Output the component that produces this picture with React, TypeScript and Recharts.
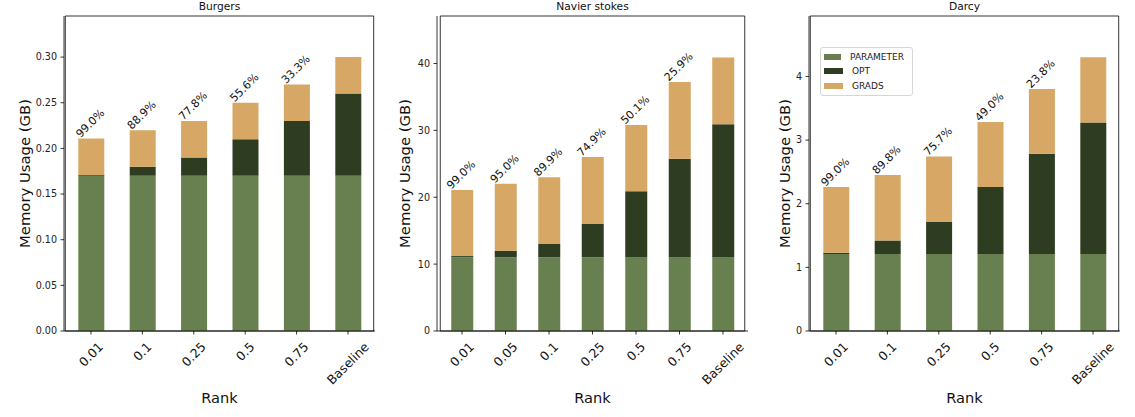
import React from 'react';
import { BarChart, Bar, XAxis, YAxis, Legend, LabelList, ReferenceArea } from 'recharts';

const burgersRanks = ['0.01', '0.1', '0.25', '0.5', '0.75', 'Baseline'];
const burgersParam = [0.17, 0.17, 0.17, 0.17, 0.17, 0.17];
const burgersOpt = [0.0009, 0.01, 0.02, 0.04, 0.06, 0.09];
const burgersGrads = [0.04, 0.04, 0.04, 0.04, 0.04, 0.04];
const burgersPct = ['99.0%', '88.9%', '77.8%', '55.6%', '33.3%', ''];
const burgersTicks = [0, 0.05, 0.1, 0.15, 0.2, 0.25, 0.3];

const navierRanks = ['0.01', '0.05', '0.1', '0.25', '0.5', '0.75', 'Baseline'];
const navierParam = [11, 11, 11, 11, 11, 11, 11];
const navierOpt = [0.2, 1.0, 2.0, 5.0, 9.9, 14.75, 19.9];
const navierGrads = [9.9, 10, 10, 10, 9.9, 11.5, 10];
const navierPct = ['99.0%', '95.0%', '89.9%', '74.9%', '50.1%', '25.9%', ''];
const navierTicks = [0, 10, 20, 30, 40];

const darcyRanks = ['0.01', '0.1', '0.25', '0.5', '0.75', 'Baseline'];
const darcyParam = [1.21, 1.21, 1.21, 1.21, 1.21, 1.21];
const darcyOpt = [0.021, 0.211, 0.502, 1.053, 1.574, 2.065];
const darcyGrads = [1.03, 1.03, 1.03, 1.02, 1.02, 1.025];
const darcyPct = ['99.0%', '89.8%', '75.7%', '49.0%', '23.8%', ''];
const darcyTicks = [0, 1, 2, 3, 4];

const seriesNames = ['PARAMETER', 'OPT', 'GRADS'];

const COLORS = { param: '#68804f', opt: '#2e3c22', grads: '#d6a765' };
const FONT = 'DejaVu Sans, Verdana, sans-serif';

// rough DejaVu Sans advance widths (em)
const charW: Record<string, number> = {
  '.': 0.318, B: 0.686, a: 0.613, s: 0.521, e: 0.615, l: 0.278, i: 0.278, n: 0.634,
};
const textWidth = (s: string, size: number) =>
  s.split('').reduce((acc, ch) => acc + (charW[ch] ?? (/[0-9]/.test(ch) ? 0.636 : 0.6)), 0) * size;

// matplotlib-style xtick: rotation 45, ha center, va top
const RotTick = (props: any) => {
  const { x, y, payload } = props;
  const fs = 12.5;
  const c = Math.SQRT1_2;
  const v = String(payload.value);
  const w = textWidth(v, fs);
  const asc = 0.93 * fs;
  const desc = 0.24 * fs;
  const px = x - ((w - asc + desc) * c) / 2;
  const py = y + (w + asc) * c;
  return (
    <text x={px} y={py} transform={`rotate(-45 ${px} ${py})`} fontSize={fs} fill="#111" fontFamily={FONT}>
      {v}
    </text>
  );
};

const PctLabel = (p: any) => {
  if (!p.value) return null;
  const cx = Number(p.x) + Number(p.width) / 2 - 1;
  const cy = Number(p.y) - 15;
  return (
    <text
      x={cx}
      y={cy}
      transform={`rotate(-45 ${cx} ${cy})`}
      textAnchor="middle"
      dominantBaseline="central"
      fontSize={11}
      fill="#111"
      fontFamily={FONT}
    >
      {p.value}
    </text>
  );
};

const LegendBox = (props: any) => {
  const items = [...(props.payload || [])].sort(
    (a: any, b: any) => seriesNames.indexOf(a.value) - seriesNames.indexOf(b.value)
  );
  return (
    <div
      style={{
        border: '1px solid #d6d6d6',
        borderRadius: 3,
        padding: '2px 8px 2px 3px',
        background: '#fff',
        fontFamily: FONT,
        fontSize: 9,
        color: '#222',
        width: 80,
      }}
    >
      {items.map((item: any) => (
        <div key={item.value} style={{ display: 'flex', alignItems: 'center', height: 14.3 }}>
          <span style={{ display: 'inline-block', width: 19, height: 6, background: item.color, marginRight: 9 }} />
          <span>{item.value}</span>
        </div>
      ))}
    </div>
  );
};

type PanelProps = {
  title: string;
  ranks: string[];
  param: number[];
  opt: number[];
  grads: number[];
  pct: string[];
  ticks: number[];
  yMax: number;
  fmt: (v: number) => string;
  barSize: number;
  pad: number;
  labelX: number;
  left: number;
  showLegend?: boolean;
};

function Panel(p: PanelProps) {
  const data = p.ranks.map((r, i) => ({
    rank: r,
    param: p.param[i],
    opt: p.opt[i],
    grads: p.grads[i],
    pct: p.pct[i],
  }));
  return (
    <div style={{ position: 'absolute', left: p.left, top: 0 }}>
      <BarChart width={380} height={417} data={data} margin={{ top: 16, right: 5, left: 0, bottom: 0 }}>
        <XAxis
          dataKey="rank"
          height={86}
          padding={{ left: p.pad, right: p.pad }}
          tick={<RotTick />}
          tickSize={3.5}
          tickMargin={5}
          interval={0}
          axisLine={{ stroke: '#000', strokeWidth: 0.8 }}
          tickLine={{ stroke: '#000', strokeWidth: 0.8 }}
          label={{ value: 'Rank', position: 'insideBottom', offset: 14, fontSize: 14.6, fill: '#111', fontFamily: FONT }}
        />
        <YAxis
          width={64}
          domain={[0, p.yMax]}
          ticks={p.ticks}
          tickFormatter={p.fmt}
          tickSize={3.5}
          tickMargin={3.5}
          tick={{ fontSize: 9.6, fill: '#222', fontFamily: FONT }}
          axisLine={{ stroke: '#000', strokeWidth: 0.8 }}
          tickLine={{ stroke: '#000', strokeWidth: 0.8 }}
          allowDataOverflow
          label={{
            value: 'Memory Usage (GB)',
            angle: -90,
            position: 'insideLeft',
            offset: p.labelX,
            fontSize: 14.8,
            fill: '#111',
            fontFamily: FONT,
            style: { textAnchor: 'middle' },
          }}
        />
        {p.showLegend && (
          <Legend
            layout="horizontal"
            verticalAlign="middle"
            align="center"
            wrapperStyle={{ left: 75, top: 47, width: 'auto', height: 'auto' }}
            content={<LegendBox />}
          />
        )}
        <Bar dataKey="param" name={seriesNames[0]} stackId="a" fill={COLORS.param} barSize={p.barSize} isAnimationActive={false} />
        <Bar dataKey="opt" name={seriesNames[1]} stackId="a" fill={COLORS.opt} barSize={p.barSize} isAnimationActive={false} />
        <Bar dataKey="grads" name={seriesNames[2]} stackId="a" fill={COLORS.grads} barSize={p.barSize} isAnimationActive={false}>
          <LabelList dataKey="pct" content={<PctLabel />} />
        </Bar>
        <ReferenceArea
          y1={0}
          y2={p.yMax}
          fill="none"
          fillOpacity={0}
          stroke="#000"
          strokeWidth={0.8}
          ifOverflow="visible"
          label={{
            value: p.title,
            position: 'top',
            offset: 6,
            fontSize: 10.7,
            fill: '#111',
            fontFamily: FONT,
            style: { stroke: 'none', strokeWidth: 0, fontWeight: 400 },
          }}
        />
      </BarChart>
    </div>
  );
}

export default function App() {
  return (
    <div style={{ position: 'absolute', left: 0, top: 0, width: 1135, height: 417, background: '#fff' }}>
      <Panel
        title="Burgers"
        ranks={burgersRanks}
        param={burgersParam}
        opt={burgersOpt}
        grads={burgersGrads}
        pct={burgersPct}
        ticks={burgersTicks}
        yMax={0.345}
        fmt={(v) => v.toFixed(2)}
        barSize={26}
        pad={1.3}
        labelX={25}
        left={0}
      />
      <Panel
        title="Navier stokes"
        ranks={navierRanks}
        param={navierParam}
        opt={navierOpt}
        grads={navierGrads}
        pct={navierPct}
        ticks={navierTicks}
        yMax={47.1}
        fmt={(v) => String(v)}
        barSize={22}
        pad={3.25}
        labelX={32}
        left={373}
      />
      <Panel
        title="Darcy"
        ranks={darcyRanks}
        param={darcyParam}
        opt={darcyOpt}
        grads={darcyGrads}
        pct={darcyPct}
        ticks={darcyTicks}
        yMax={4.95}
        fmt={(v) => String(v)}
        barSize={26}
        pad={1.3}
        labelX={40}
        left={745}
        showLegend
      />
    </div>
  );
}
